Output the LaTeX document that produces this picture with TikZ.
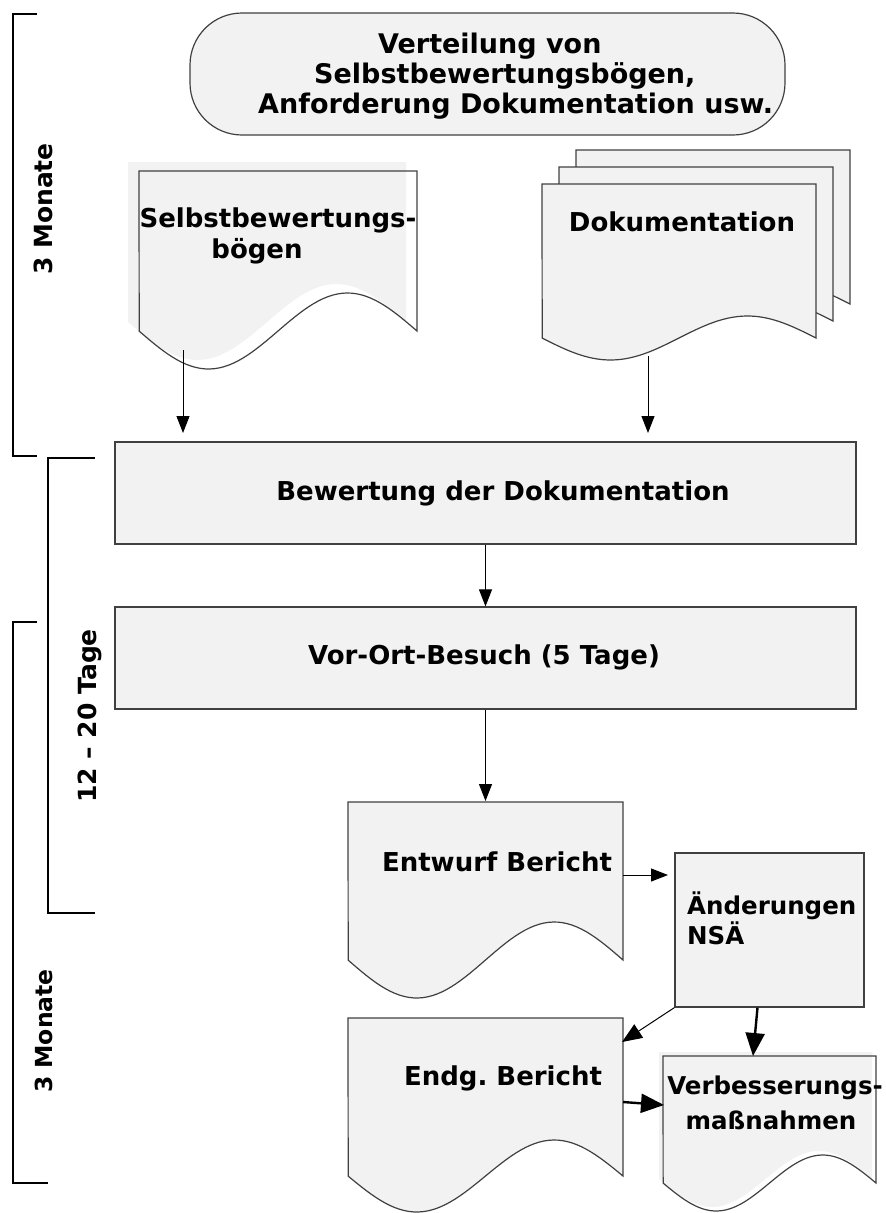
\documentclass[tikz,border=0pt]{standalone}
\usepackage{fontspec}
\setmainfont{DejaVu Sans}
\usetikzlibrary{arrows.meta}
\definecolor{boxfill}{HTML}{F2F2F2}
\definecolor{boxline}{HTML}{404040}
\tikzset{
  lbl/.style={font=\fontsize{26}{30}\selectfont\bfseries, inner sep=0pt, align=center},
  smalllbl/.style={font=\fontsize{24.5}{30}\selectfont\bfseries, inner sep=0pt, align=center},
  sidelbl/.style={font=\fontsize{25}{30}\selectfont\bfseries, inner sep=0pt, rotate=90},
  box/.style={draw=boxline, fill=boxfill, line width=1.2pt, inner sep=0pt},
  arr/.style={-{Triangle[length=17pt,width=13pt]}, line width=1pt, black},
  thickarr/.style={-{Triangle[length=23pt,width=19pt]}, line width=2.4pt, black},
  bracket/.style={line width=2pt, black},
  docline/.style={draw=boxline, line width=1.2pt},
}
% document shape: #2 x0, #3 ytop, #4 x1, #5 bottom-end y, #6 wave amplitude
\newcommand{\drawdoc}[6][]{%
  \path[#1] (#2,#3) -- (#4,#3) -- (#4,#5)
    -- plot[domain=1:0,samples=60,variable=\t] ({#2+\t*(#4-#2)},{#5+#6*sin(360*\t)}) -- cycle;}

\begin{document}
\begin{tikzpicture}[x=1pt,y=-1pt]
\useasboundingbox (0,0) rectangle (886,1213);

% ---------- brackets ----------
\draw[bracket] (37,14) -- (12.5,14) -- (12.5,456) -- (37,456);
\draw[bracket] (95,458) -- (48,458) -- (48,913) -- (95,913);
\draw[bracket] (37,622) -- (12.5,622) -- (12.5,1183) -- (48,1183);
\node[sidelbl] (m1) at (43,209) {3 Monate};
\node[sidelbl] (t1) at (90,716) {12 – 20 Tage};
\node[sidelbl, font=\fontsize{23.5}{30}\selectfont\bfseries] (m2) at (44,1031) {3 Monate};

% ---------- top terminator ----------
\node[box, rounded corners=52pt, minimum width=595pt, minimum height=122pt] (term) at (487.5,74) {};
\node[lbl, font=\fontsize{27}{30}\selectfont\bfseries, align=left, anchor=west] (termtxt) at (258,76)
  {\hspace*{120pt}Verteilung von\\\hspace*{56pt}Selbstbewertungsbögen,\\Anforderung Dokumentation usw.};

% ---------- Selbstbewertungsbögen document ----------
\drawdoc[fill=boxfill]{128}{162}{406}{322}{38}
\drawdoc[docline]{139}{171}{417}{331}{38}
\node[lbl] (selbst1) at (278,220) {Selbstbewertungs-};
\node[lbl] (selbst2) at (257,251) {bögen};
\coordinate (selbstout) at (183,350);

% ---------- Dokumentation multi-document ----------
\drawdoc[docline, fill=boxfill]{576}{150}{850}{304}{22}
\drawdoc[docline, fill=boxfill]{559}{167}{833}{321}{22}
\drawdoc[docline, fill=boxfill]{542}{184}{816}{338}{22}
\node[lbl] (doku) at (682,222) {Dokumentation};
\coordinate (dokuout) at (648,356);

% ---------- process boxes ----------
\node[box, minimum width=741pt, minimum height=102pt] (bew) at (485.5,493) {};
\node[lbl] (bewtxt) at (503,493) {Bewertung der Dokumentation};
\node[box, minimum width=741pt, minimum height=102pt] (vor) at (485.5,658) {};
\node[lbl] (vortxt) at (484,657) {Vor-Ort-Besuch (5 Tage)};
\coordinate (bewin1) at (183,433);
\coordinate (bewin2) at (648,433);

% ---------- Entwurf Bericht ----------
\drawdoc[docline, fill=boxfill]{348}{802}{623}{960}{38}
\node[lbl] (entwurf) at (497,862) {Entwurf Bericht};
\coordinate (entwurfin) at (485.5,801);
\coordinate (entwurfout) at (623,875);

% ---------- Änderungen NSÄ ----------
\node[box, minimum width=189pt, minimum height=154pt] (aend) at (769.5,930) {};
\node[smalllbl, align=left, anchor=west] (aendtxt) at (687,918) {Änderungen\\NSÄ};
\coordinate (aendin) at (668,875);

% ---------- Endg. Bericht ----------
\drawdoc[docline, fill=boxfill]{348}{1018}{623}{1176}{36}
\node[lbl] (endg) at (503,1078) {Endg.\ Bericht};
\coordinate (endgin) at (622,1042);
\coordinate (endgout) at (623,1102);

% ---------- Verbesserungsmaßnahmen ----------
\drawdoc[fill=boxfill]{659}{1052}{872}{1179}{28}
\drawdoc[docline]{663}{1056}{876}{1183}{28}
\node[smalllbl] (verb1) at (775,1088) {Verbesserungs-};
\node[smalllbl] (verb2) at (771,1120) {maßnahmen};
\coordinate (verbin1) at (753,1056);
\coordinate (verbin2) at (664,1105);

% ---------- connectors ----------
\draw[arr] (selbstout) -- (bewin1);
\draw[arr] (dokuout) -- (bewin2);
\draw[arr] (bew.south) -- (vor.north);
\draw[arr] (vor.south) -- (entwurfin);
\draw[arr] (entwurfout) -- (aendin);
\draw[arr, -{Triangle[length=20pt,width=16pt]}] (aend.south west) -- (endgin);
\draw[thickarr] ([xshift=-12pt]aend.south) -- (verbin1);
\draw[thickarr] (endgout) -- (verbin2);
\end{tikzpicture}
\end{document}
